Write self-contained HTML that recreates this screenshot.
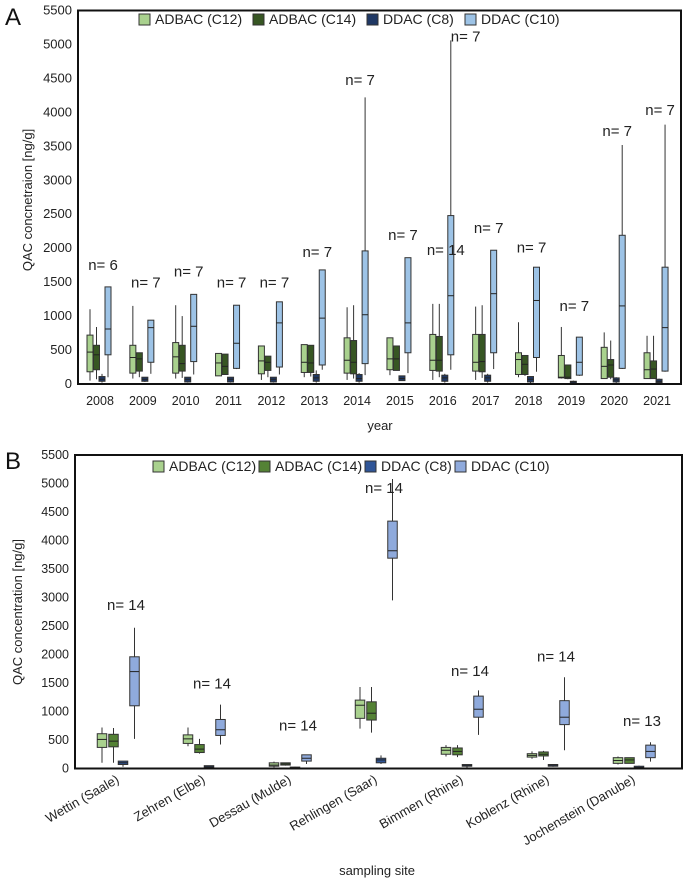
<!DOCTYPE html>
<html><head><meta charset="utf-8"><style>
html,body{margin:0;padding:0;background:#fff;}
svg{display:block;font-family:"Liberation Sans",sans-serif;}
</style></head><body>
<svg id="fig" width="685" height="883" viewBox="0 0 685 883" xmlns="http://www.w3.org/2000/svg"></svg>
<script>
// ---- Panel A data ----
const yearsA = ["2008","2009","2010","2011","2012","2013","2014","2015","2016","2017","2018","2019","2020","2021"];
// each entry: [whiskerLow, q1, median, q3, whiskerHigh]
const c12A = [[50,180,470,720,1100],[80,160,390,570,1150],[80,160,400,610,1160],[120,120,310,450,450],[60,150,340,560,560],[100,170,320,580,580],[60,160,350,680,1130],[130,210,370,680,680],[60,200,350,730,1180],[60,190,320,730,1140],[100,140,360,460,910],[80,90,100,420,840],[80,80,260,540,760],[80,80,210,460,710]];
const c14A = [[70,210,430,570,840],[100,190,370,460,460],[90,190,300,570,1000],[140,140,260,440,440],[100,200,320,410,410],[110,170,310,570,570],[80,150,320,640,1160],[200,200,370,560,560],[100,190,350,700,1180],[90,180,330,730,1160],[120,140,290,420,420],[70,80,100,280,280],[70,100,280,360,640],[80,80,220,340,710]];
const c8A = [[20,40,70,110,150],[30,40,70,100,100],[20,30,70,100,100],[20,30,70,100,100],[20,30,70,100,100],[20,40,90,140,200],[20,40,80,140,160],[50,50,80,120,120],[20,40,90,130,150],[20,40,90,130,150],[10,30,70,110,110],[0,10,30,40,50],[10,30,60,90,100],[10,20,40,70,80]];
const c10A = [[100,430,810,1430,1430],[150,320,830,940,940],[140,330,850,1320,1320],[220,230,600,1160,1160],[140,250,900,1210,1210],[210,280,970,1680,1680],[130,300,1020,1960,4220],[160,460,900,1860,1860],[210,430,1300,2480,5060],[220,460,1330,1970,1970],[180,390,1230,1720,1720],[120,130,320,690,690],[220,230,1150,2190,3520],[180,190,830,1720,3820]];
const nTextA = ["n= 6","n= 7","n= 7","n= 7","n= 7","n= 7","n= 7","n= 7","n= 14","n= 7","n= 7","n= 7","n= 7","n= 7"];
const nValA = [1680,1420,1580,1420,1420,1870,4400,2120,1900,2220,1935,1075,3650,3960];
const extraNA = ["n= 7"]; const extraNValA = [5040];
// ---- Panel B data ----
const sitesB = ["Wettin (Saale)","Zehren (Elbe)","Dessau (Mulde)","Rehlingen (Saar)","Bimmen (Rhine)","Koblenz (Rhine)","Jochenstein (Danube)"];
const c12B = [[100,370,510,610,720],[390,440,520,590,720],[20,40,60,100,120],[700,880,1110,1200,1430],[210,250,320,370,410],[170,200,230,260,300],[70,90,140,190,210]];
const c14B = [[100,380,480,600,710],[260,280,340,420,520],[50,60,80,100,100],[630,850,970,1170,1430],[200,240,300,360,410],[150,220,250,290,310],[90,90,150,190,190]];
const c8B = [[30,70,100,130,130],[20,20,30,50,50],[0,5,15,25,30],[80,100,150,180,230],[10,40,50,70,70],[30,40,60,70,80],[0,10,20,40,50]];
const c10B = [[520,1100,1700,1960,2470],[420,580,680,860,1120],[80,130,180,240,240],[2950,3690,3820,4340,5080],[590,900,1040,1270,1370],[320,770,900,1190,1600],[120,190,300,410,460]];
const nTextB = ["n= 14","n= 14","n= 14","n= 14","n= 14","n= 14","n= 13"];
const nValB = [2780,1400,670,4830,1620,1880,750];
const ticks = [0,500,1000,1500,2000,2500,3000,3500,4000,4500,5000,5500];
const seriesNames = ["ADBAC (C12)","ADBAC (C14)","DDAC (C8)","DDAC (C10)"];

const NS="http://www.w3.org/2000/svg";
const svg=document.getElementById('fig');
function el(tag,attrs,parent){const e=document.createElementNS(NS,tag);for(const k in attrs)e.setAttribute(k,attrs[k]);(parent||svg).appendChild(e);return e;}

function panel(cfg){
  const g=el('g',{});
  
  
  const y=v=>cfg.y0-(v/5500)*(cfg.y0-cfg.y1);
  const x=i=>cfg.xc0+i*cfg.step;
  ticks.forEach(t=>{
    const tx=el('text',{x:cfg.x0-6,y:y(t)+4,'font-size':cfg.tickFs,'text-anchor':'end',fill:'#222'},g);
    tx.textContent=t;
    
    
  });
  cfg.series.forEach((ser,si)=>{
    ser.forEach((d,i)=>{
      const cx=x(i)+cfg.offs[si], w=cfg.bw;
      const bg=el('g',{},g);
      
      
      el('line',{x1:cx,x2:cx,y1:y(d[0]),y2:y(d[4]),stroke:'#333','stroke-width':1},bg);
      el('rect',{x:cx-w/2,y:y(d[3]),width:w,height:Math.max(1,y(d[1])-y(d[3])),fill:cfg.colors[si],stroke:'#333','stroke-width':1},bg);
      el('line',{x1:cx-w/2,x2:cx+w/2,y1:y(d[2]),y2:y(d[2]),stroke:'#222','stroke-width':1},bg);
    });
  });
  cfg.nText.forEach((t,i)=>{
    const tx=el('text',{x:x(i)+cfg.nOff,y:y(cfg.nVal[i]),'font-size':15,'text-anchor':'middle',fill:'#222'},g);
    tx.textContent=t;
    
    
  });
  const fr=el('rect',{x:cfg.x0,y:cfg.y1,width:cfg.x2-cfg.x0,height:cfg.y0-cfg.y1,fill:'none',stroke:'#111','stroke-width':2},g);
  
  
  let lx=cfg.legX;
  const widths=cfg.legW;
  seriesNames.forEach((n,si)=>{
    const lg=el('g',{},g);
    
    
    el('rect',{x:lx,y:cfg.legY-10,width:11,height:11,fill:cfg.colors[si],stroke:'#333','stroke-width':1},lg);
    const tx=el('text',{x:lx+16,y:cfg.legY,'font-size':cfg.legFs,fill:'#222'},lg);
    tx.textContent=n;
    lx+=widths[si];
  });
  return {g,x,y};
}

const A=panel({name:'panel-a',x0:78,x2:681,y0:384,y1:10.5,xc0:100,step:42.85,offs:[-10,-3.5,2,8],bw:6,tickFs:13,
  series:[c12A,c14A,c8A,c10A],colors:['#a9d18e','#375623','#1f3864','#9dc3e6'],
  nText:nTextA,nVal:nValA,nOff:3,legX:139,legY:24,legFs:14,legW:[114,114,98,100]});
yearsA.forEach((t,i)=>{
  const tx=el('text',{x:A.x(i),y:405,'font-size':12.5,'text-anchor':'middle',fill:'#222'});
  tx.textContent=t;
  
  
});
{const tx=el('text',{x:A.x(8)+8,y:A.y(extraNValA[0]),'font-size':15,fill:'#222'});tx.textContent=extraNA[0];

}

const B=panel({name:'panel-b',x0:75,x2:682,y0:768.5,y1:455,xc0:118,step:86,offs:[-16,-4.5,5,16.5],bw:9.5,tickFs:12.5,
  series:[c12B,c14B,c8B,c10B],colors:['#a9d18e','#548235','#2f5597','#8faadc'],
  nText:nTextB,nVal:nValB,nOff:8,legX:153,legY:471,legFs:14,legW:[106,106,90,100]});
sitesB.forEach((t,i)=>{
  const cx=B.x(i)+2, cy=782;
  const tx=el('text',{x:cx,y:cy,'font-size':13,'text-anchor':'end',fill:'#222',transform:`rotate(-30 ${cx} ${cy})`});
  tx.textContent=t;
  
  
});

function txt(s,a,name){const t=el('text',a);t.textContent=s;}
txt('A',{x:5,y:25,'font-size':24,fill:'#111'},'panel-a-label');
txt('B',{x:5,y:469,'font-size':24,fill:'#111'},'panel-b-label');
txt('year',{x:380,y:430,'font-size':13,'text-anchor':'middle',fill:'#222'},'x-axis-title-a');
txt('sampling site',{x:377,y:875,'font-size':13,'text-anchor':'middle',fill:'#222'},'x-axis-title-b');
txt('QAC concnetraion [ng/g]',{x:32,y:200,'font-size':13,'text-anchor':'middle',fill:'#222',transform:'rotate(-90 32 200)'},'y-axis-title-a');
txt('QAC concentration [ng/g]',{x:22,y:612,'font-size':13,'text-anchor':'middle',fill:'#222',transform:'rotate(-90 22 612)'},'y-axis-title-b');
</script>
</body></html>
